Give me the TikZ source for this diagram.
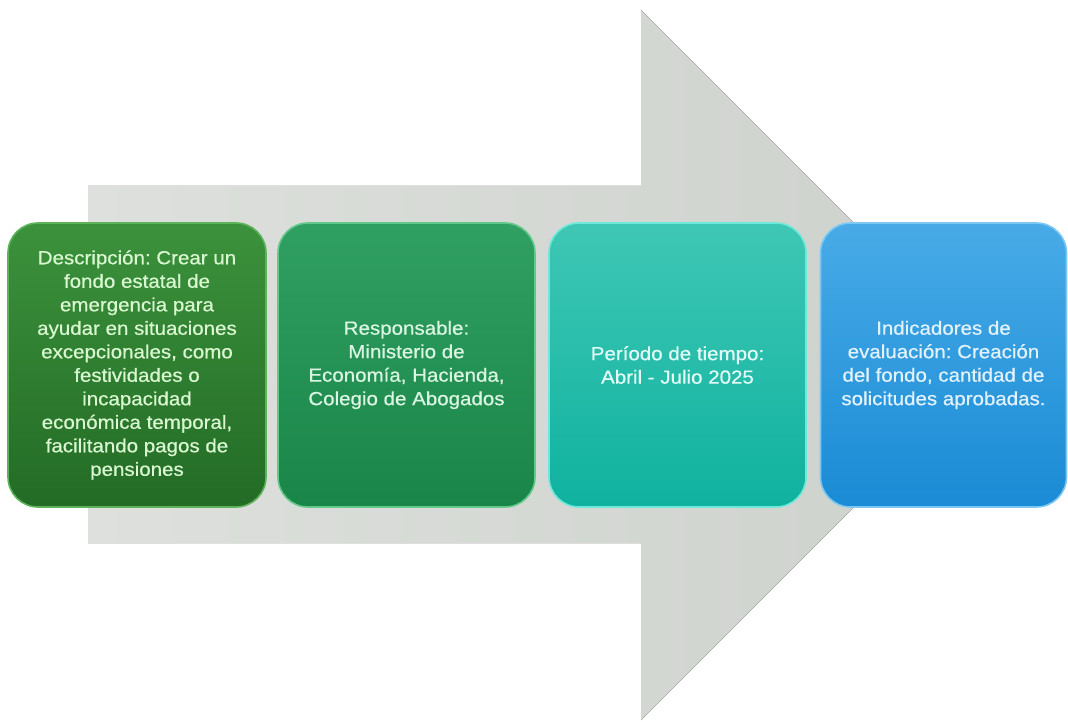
\documentclass[tikz,border=0pt]{standalone}
\usepackage{fontspec}
\setmainfont{Liberation Sans}[FakeStretch=1.08, FakeBold=0.6]
\frenchspacing
\definecolor{greyA}{HTML}{DDE0DC}
\definecolor{greyB}{HTML}{CDD1CC}
\definecolor{g1t}{HTML}{3C923C}
\definecolor{g1b}{HTML}{236B26}
\definecolor{g1e}{HTML}{5DB35A}
\definecolor{g1x}{HTML}{D9F7D0}
\definecolor{g2t}{HTML}{30A062}
\definecolor{g2b}{HTML}{1A8548}
\definecolor{g2e}{HTML}{63C98B}
\definecolor{g2x}{HTML}{DAF5E2}
\definecolor{g3t}{HTML}{3FC7B5}
\definecolor{g3b}{HTML}{0FB29F}
\definecolor{g3e}{HTML}{6EE8D8}
\definecolor{g3x}{HTML}{E2FBF6}
\definecolor{g4t}{HTML}{48ABE7}
\definecolor{g4b}{HTML}{1A8BD5}
\definecolor{g4e}{HTML}{7CC8F2}
\definecolor{g4x}{HTML}{E2F2FC}
\tikzset{
  card/.style={rounded corners=30pt, minimum height=284pt, align=center,
    font=\fontsize{19}{23.5}\selectfont, line width=1.6pt, inner sep=0pt},
}
\begin{document}
\begin{tikzpicture}[x=1pt,y=-1pt]
\useasboundingbox (0,0) rectangle (1068,722);
\fill[left color=greyA, right color=greyB]
  (88,186) -- (641,186) -- (641,10) -- (996,365) -- (641,720) -- (641,543) -- (88,543) -- cycle;
\node[card, minimum width=258pt, top color=g1t, bottom color=g1b, draw=g1e, text=g1x] (b1) at (137,365)
  {Descripción: Crear un\\fondo estatal de\\emergencia para\\ayudar en situaciones\\excepcionales, como\\festividades o\\incapacidad\\económica temporal,\\facilitando pagos de\\pensiones};
\node[card, minimum width=257pt, top color=g2t, bottom color=g2b, draw=g2e, text=g2x] (b2) at (406.5,365)
  {Responsable:\\Ministerio de\\Economía, Hacienda,\\Colegio de Abogados};
\node[card, minimum width=257pt, top color=g3t, bottom color=g3b, draw=g3e, text=g3x] (b3) at (677.5,365)
  {Período de tiempo:\\Abril - Julio 2025};
\node[card, minimum width=246pt, top color=g4t, bottom color=g4b, draw=g4e, text=g4x] (b4) at (943.5,365)
  {Indicadores de\\evaluación: Creación\\del fondo, cantidad de\\solicitudes aprobadas.};
\end{tikzpicture}
\end{document}
